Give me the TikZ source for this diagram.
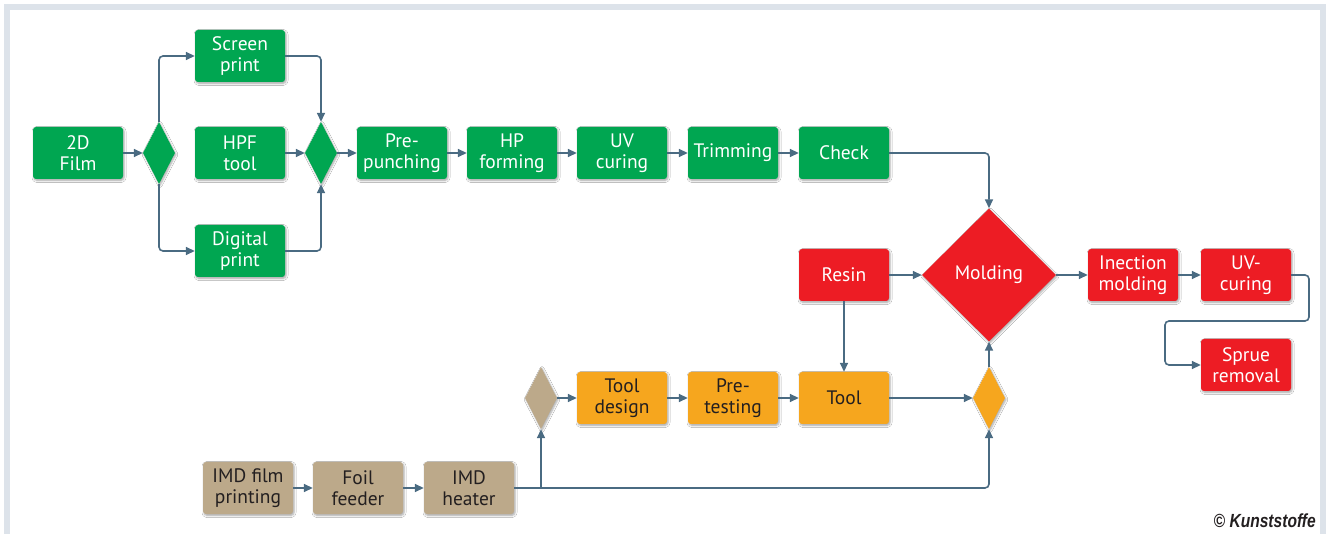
\documentclass[tikz,border=0pt]{standalone}
\usepackage{fontspec}
\setmainfont{PT Sans}
\newfontfamily\cpfont{Liberation Sans}
\usetikzlibrary{shapes.geometric,arrows.meta,shadows.blur}
\definecolor{kgreen}{HTML}{00A651}
\definecolor{kred}{HTML}{ED1C24}
\definecolor{korange}{HTML}{F6A61E}
\definecolor{ktan}{HTML}{BCA98A}
\definecolor{kline}{HTML}{4A6B82}
\definecolor{kframe}{HTML}{DDE3EA}
\definecolor{ktext}{HTML}{231F20}
\tikzset{
  x=1pt,y=-1pt,
  boxbase/.style={rectangle,rounded corners=3pt,minimum width=90pt,minimum height=52pt,
    inner sep=1pt,align=center,font=\fontsize{19.5}{21.5}\selectfont,
    blur shadow={shadow xshift=1pt,shadow yshift=-1.5pt,shadow blur steps=5,shadow blur extra rounding=2pt,shadow opacity=35}},
  gbox/.style={boxbase,fill=kgreen,text=white},
  rbox/.style={boxbase,fill=kred,text=white},
  obox/.style={boxbase,fill=korange,text=ktext},
  tbox/.style={boxbase,fill=ktan,text=ktext},
  dia/.style={diamond,inner sep=0pt,minimum width=32pt,minimum height=62pt,
    blur shadow={shadow xshift=1pt,shadow yshift=-1.5pt,shadow blur steps=5,shadow opacity=35}},
  conn/.style={draw=kline,line width=1.6pt,rounded corners=4pt,-{Triangle[length=9pt,width=8pt]}},
}
\begin{document}
\begin{tikzpicture}
\useasboundingbox (0,0) rectangle (1326,534);
\fill[white] (0,0) rectangle (1326,534);
% frame
\fill[kframe] (4,4) rectangle (1326,10);
\fill[kframe] (4,4) rectangle (10,534);
\fill[kframe] (1320,4) rectangle (1326,534);

% green row
\node[gbox] (film) at (78,153) {2D\\Film};
\node[dia,fill=kgreen] (d1) at (159,153) {};
\node[gbox] (screen) at (240,56) {Screen\\print};
\node[gbox] (hpf) at (240,153) {HPF\\tool};
\node[gbox] (digital) at (240,251) {Digital\\print};
\node[dia,fill=kgreen] (d2) at (321,153) {};
\node[gbox] (prep) at (402,153) {Pre-\\punching};
\node[gbox] (hpform) at (512,153) {HP\\forming};
\node[gbox] (uv) at (622,153) {UV\\curing};
\node[gbox] (trim) at (733,153) {Trimming};
\node[gbox] (check) at (844,153) {Check};

% red
\node[diamond,inner sep=0pt,minimum width=134pt,minimum height=133pt,fill=kred,text=white,
  font=\fontsize{19.5}{21.5}\selectfont,
  blur shadow={shadow xshift=1pt,shadow yshift=-1.5pt,shadow blur steps=5,shadow opacity=35}] (mold) at (989,275) {Molding};
\node[rbox] (resin) at (844,275) {Resin};
\node[rbox] (inj) at (1133,275) {Inection\\molding};
\node[rbox] (uvc) at (1246,275) {UV-\\curing};
\node[rbox] (sprue) at (1246,365) {Sprue\\removal};

% orange
\node[dia,fill=ktan] (gd) at (541,398) {};
\node[obox] (tdes) at (622,398) {Tool\\design};
\node[obox] (ptest) at (733,398) {Pre-\\testing};
\node[obox] (tool) at (844,398) {Tool};
\node[dia,fill=korange] (od) at (989,398) {};

% tan
\node[tbox] (imdp) at (248,488) {IMD film\\printing};
\node[tbox] (foil) at (358,488) {Foil\\feeder};
\node[tbox] (heat) at (469,488) {IMD\\heater};

\coordinate (c1) at (1309,321);
\coordinate (c2) at (1165,321);

% connectors
\draw[conn] (film) -- (d1);
\draw[conn] (d1.north) |- (screen.west);
\draw[conn] (d1.south) |- (digital.west);
\draw[conn] (hpf) -- (d2);
\draw[conn] (screen.east) -| (d2.north);
\draw[conn] (digital.east) -| (d2.south);
\draw[conn] (d2) -- (prep);
\draw[conn] (prep) -- (hpform);
\draw[conn] (hpform) -- (uv);
\draw[conn] (uv) -- (trim);
\draw[conn] (trim) -- (check);
\draw[conn] (check.east) -| (mold.north);
\draw[conn] (resin) -- (mold);
\draw[conn] (resin) -- (tool);
\draw[conn] (mold) -- (inj);
\draw[conn] (inj) -- (uvc);
\draw[conn] (uvc.east) -| (c1) -- (c2) |- (sprue.west);
\draw[conn] (gd) -- (tdes);
\draw[conn] (tdes) -- (ptest);
\draw[conn] (ptest) -- (tool);
\draw[conn] (tool) -- (od);
\draw[conn] (od) -- (mold);
\draw[conn] (imdp) -- (foil);
\draw[conn] (foil) -- (heat);
\draw[conn] (heat.east) -| (od.south);
\draw[conn,rounded corners=0pt] (gd.south |- heat.east) -- (gd.south);

\node[anchor=base east,inner sep=0pt,font=\cpfont\bfseries\itshape\fontsize{19}{19}\selectfont,text=ktext] (cp) at (1316,527) {\scalebox{0.82}[1]{© Kunststoffe}};
\end{tikzpicture}
\end{document}
